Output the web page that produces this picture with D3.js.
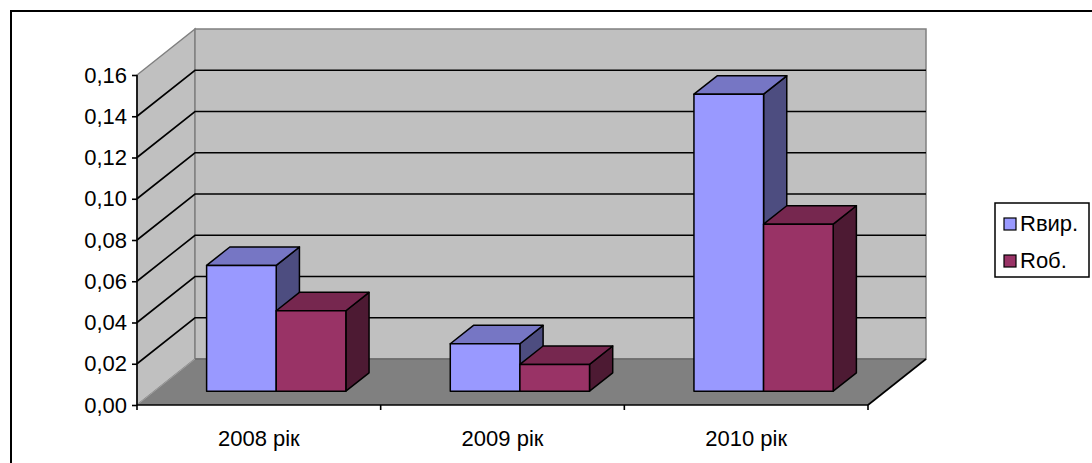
<!DOCTYPE html>
<html>
<head>
<meta charset="utf-8">
<script src="https://cdn.jsdelivr.net/npm/d3@7"></script>
<style>
  html, body { margin: 0; padding: 0; background: #fff; }
  svg { display: block; font-family: "Liberation Sans", Arial, sans-serif; }
</style>
</head>
<body>
<svg id="chart" width="1092" height="463"></svg>
<script>
// Chart data
const categories = ["2008 рік", "2009 рік", "2010 рік"];
const seriesNames = ["Rвир.", "Roб."];
const rVyr = [0.061, 0.023, 0.144];
const rOb = [0.039, 0.013, 0.081];
const yTicks = [0, 0.02, 0.04, 0.06, 0.08, 0.10, 0.12, 0.14, 0.16];

const seriesValues = [rVyr, rOb];
const frontColors = ["#9999FF", "#993366"];
const FONT = 22;

const svg = d3.select("#chart");

// Front plane scales
const x = d3.scaleBand().domain(categories).range([137, 868]).paddingInner(0).paddingOuter(0);
const xs = d3.scaleBand().domain(seriesNames).range([0, x.bandwidth()]).paddingInner(0).paddingOuter(0.75);
const y = d3.scaleLinear().domain([0, 0.16]).range([405, 75]);

// Oblique depth offset of the full floor depth
const DX = 58, DY = -46;
const P = (px, py, z) => [px + z * DX, py + z * DY];
const pts = arr => arr.map(p => p.join(",")).join(" ");

const fmt = v => d3.format(".2f")(v).replace(".", ",");

// Outer chart border
svg.append("rect").attr("x", 11).attr("y", 11).attr("width", 1100).attr("height", 480)
  .attr("fill", "#fff").attr("stroke", "#000").attr("stroke-width", 2);

const x0 = x.range()[0], x1 = x.range()[1];
const yb = y(0), yt = y(0.16);

// Walls
svg.append("polygon")
  .attr("points", pts([P(x0, yb, 0), P(x0, yt, 0), P(x0, yt, 1), P(x0, yb, 1)]))
  .attr("fill", "#C0C0C0").attr("stroke", "#808080").attr("stroke-width", 1.5);
svg.append("polygon")
  .attr("points", pts([P(x0, yb, 1), P(x0, yt, 1), P(x1, yt, 1), P(x1, yb, 1)]))
  .attr("fill", "#C0C0C0").attr("stroke", "#808080").attr("stroke-width", 1.5);

// Gridlines on side and back walls
const inner = yTicks.filter(t => t > 0 && t < 0.16);
const grid = svg.append("g").attr("stroke", "#000").attr("stroke-width", 1.6).attr("fill", "none");
inner.forEach(t => {
  grid.append("polyline").attr("points", pts([P(x0, y(t), 0), P(x0, y(t), 1), P(x1, y(t), 1)]));
});

// Floor
svg.append("polygon")
  .attr("points", pts([P(x0, yb, 0), P(x1, yb, 0), P(x1, yb, 1), P(x0, yb, 1)]))
  .attr("fill", "#808080").attr("stroke", "none");
svg.append("line")
  .attr("x1", P(x0, yb, 1)[0]).attr("y1", P(x0, yb, 1)[1])
  .attr("x2", P(x1, yb, 1)[0]).attr("y2", P(x1, yb, 1)[1])
  .attr("stroke", "#6a6a6a").attr("stroke-width", 1.5);
svg.append("line")
  .attr("x1", P(x0, yb, 0)[0]).attr("y1", P(x0, yb, 0)[1])
  .attr("x2", P(x0, yb, 1)[0]).attr("y2", P(x0, yb, 1)[1])
  .attr("stroke", "#a0a0a0").attr("stroke-width", 1);
svg.append("line")
  .attr("x1", P(x1, yb, 0)[0]).attr("y1", P(x1, yb, 0)[1])
  .attr("x2", P(x1, yb, 1)[0]).attr("y2", P(x1, yb, 1)[1])
  .attr("stroke", "#000").attr("stroke-width", 1.6);

// Bars (boxes between depth 0.3 and 0.7)
const z0 = 0.3, z1 = 0.7;
const shade = (c, k) => { const r = d3.rgb(c); return d3.rgb(r.r * k, r.g * k, r.b * k).formatHex(); };
const bars = svg.append("g").attr("stroke", "#000").attr("stroke-width", 1.5).attr("stroke-linejoin", "round");
categories.forEach((cat, i) => {
  seriesNames.forEach((s, j) => {
    const v = seriesValues[j][i];
    const bx0 = x(cat) + xs(s), bx1 = bx0 + xs.bandwidth();
    const by0 = y(0), by1 = y(v);
    const c = frontColors[j];
    // side face
    bars.append("polygon")
      .attr("points", pts([P(bx1, by0, z0), P(bx1, by1, z0), P(bx1, by1, z1), P(bx1, by0, z1)]))
      .attr("fill", shade(c, 0.5));
    // top face
    bars.append("polygon")
      .attr("points", pts([P(bx0, by1, z0), P(bx1, by1, z0), P(bx1, by1, z1), P(bx0, by1, z1)]))
      .attr("fill", shade(c, 0.77));
    // front face
    bars.append("polygon")
      .attr("points", pts([P(bx0, by0, z0), P(bx1, by0, z0), P(bx1, by1, z0), P(bx0, by1, z0)]))
      .attr("fill", c);
  });
});

// Value axis
const yAxis = svg.append("g").attr("transform", `translate(${x0},0)`)
  .call(d3.axisLeft(y).tickValues(yTicks).tickSize(5).tickPadding(5).tickFormat(fmt));
yAxis.select(".domain").attr("stroke", "#000").attr("stroke-width", 1.6).attr("d", `M0,${yt}V${yb}`);
yAxis.selectAll(".tick line").attr("stroke", "#000").attr("stroke-width", 1.6);
yAxis.selectAll(".tick text").attr("font-size", FONT).attr("fill", "#000")
  .attr("font-family", "'Liberation Sans', Arial, sans-serif");

// Category axis
const xAxis = svg.append("g").attr("transform", `translate(0,${yb})`)
  .call(d3.axisBottom(x).tickSize(0).tickPadding(25));
xAxis.select(".domain").attr("stroke", "#000").attr("stroke-width", 1.6).attr("d", `M${x0},0H${x1}`);
xAxis.selectAll(".tick text").attr("font-size", FONT).attr("fill", "#000")
  .attr("font-family", "'Liberation Sans', Arial, sans-serif");
// Category separators
const bounds = [x0].concat(categories.map(c => x(c) + x.bandwidth()));
xAxis.selectAll(".sep").data(bounds).enter().append("line")
  .attr("x1", d => d).attr("x2", d => d).attr("y1", 0).attr("y2", 5)
  .attr("stroke", "#000").attr("stroke-width", 1.6);

// Legend
const lg = svg.append("g").attr("transform", "translate(995,203)");
lg.append("rect").attr("width", 94).attr("height", 74).attr("fill", "#fff")
  .attr("stroke", "#000").attr("stroke-width", 1.5);
seriesNames.forEach((s, j) => {
  const row = lg.append("g").attr("transform", `translate(9,${15 + j * 37})`);
  row.append("rect").attr("width", 12).attr("height", 12).attr("fill", frontColors[j])
    .attr("stroke", "#000").attr("stroke-width", 1.2);
  row.append("text").attr("x", 16).attr("y", 13).attr("font-size", FONT).attr("fill", "#000").text(s);
});
</script>
</body>
</html>
